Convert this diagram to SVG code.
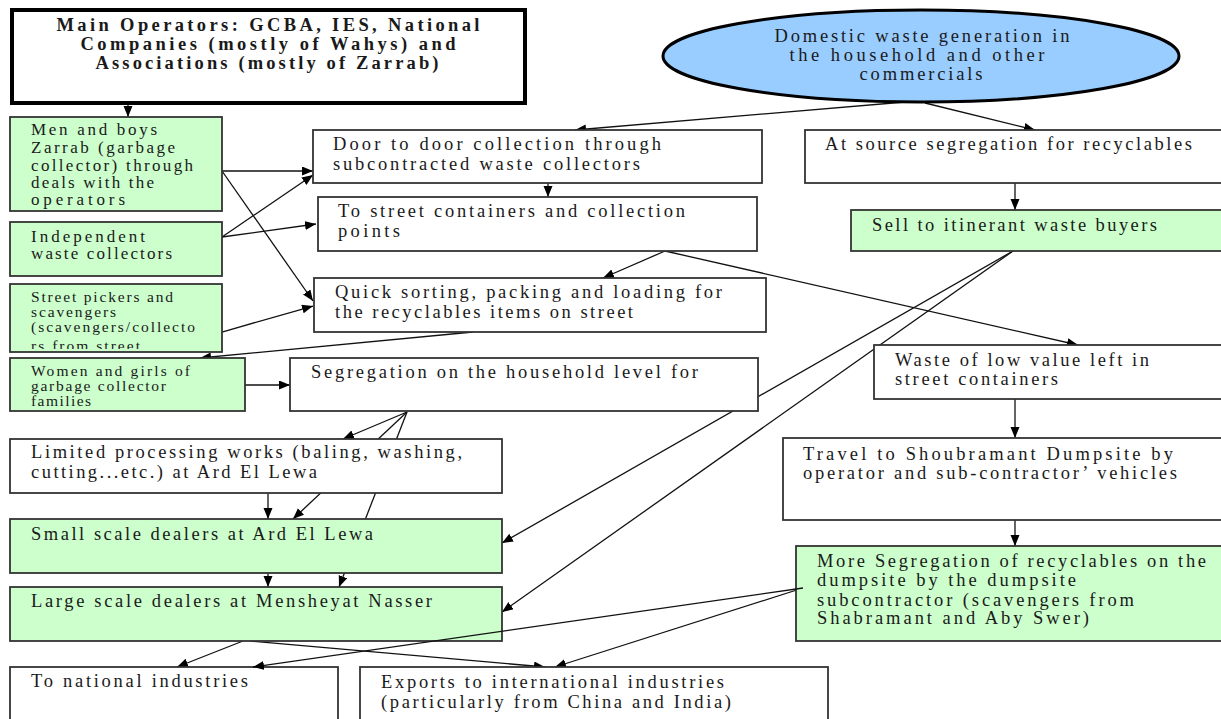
<svg xmlns="http://www.w3.org/2000/svg" width="1221" height="719" viewBox="0 0 1221 719">
<style>
.box{fill:#fff;stroke:#333;stroke-width:1.8}
.g{fill:#ccffcc;stroke:#333;stroke-width:1.8}
.c{fill:none;stroke:#111;stroke-width:1.3;marker-end:url(#ah)}
</style>
<defs>
<marker id="ah" markerUnits="userSpaceOnUse" markerWidth="12" markerHeight="10" refX="11" refY="4.5" orient="auto">
<path d="M0,0 L11,4.5 L0,9 z" fill="#000"/>
</marker>
<clipPath id="clipPick"><rect x="10" y="284" width="212" height="65"/></clipPath>
</defs>
<rect width="1221" height="719" fill="#fff"/>
<g id="connectors">
<path class="c" d="M128,103 V117"/>
<path class="c" d="M905,102 L575,130"/>
<path class="c" d="M925,103 L1035,130"/>
<path class="c" d="M548,183 V197"/>
<path class="c" d="M1015,183 V210"/>
<path class="c" d="M222,171 H313"/>
<path class="c" d="M222,171 L313,301"/>
<path class="c" d="M222,237 L313,175"/>
<path class="c" d="M222,237 L316,224"/>
<path class="c" d="M222,332 L313,306"/>
<path class="c" d="M665,251 L603,278"/>
<path class="c" d="M665,251 L1078,345"/>
<path class="c" d="M473,332 L200,358"/>
<path class="c" d="M245,385 H290"/>
<path class="c" d="M407,412 L343,439"/>
<path class="c" d="M407,412 L293,519"/>
<path class="c" d="M407,412 L339,587"/>
<path class="c" d="M268,493 V519"/>
<path class="c" d="M268,573 V587"/>
<path class="c" d="M1013,251 L502,543"/>
<path class="c" d="M1013,251 L502,612"/>
<path class="c" d="M1015,399 V438"/>
<path class="c" d="M1015,520 V546"/>
<path class="c" d="M243,641 L177,667"/>
<path class="c" d="M250,641 L545,667"/>
<path class="c" d="M803,588 L555,667"/>
</g>
<g id="nodes" font-family="Liberation Serif, DejaVu Serif, Times New Roman, serif" font-size="18.5" fill="#1a1a1a">
<g id="main">
<rect x="12" y="10" width="513" height="93" fill="#fff" stroke="#000" stroke-width="4"/>
<text x="268" y="31" text-anchor="middle" style="font-weight:bold;font-size:18.5px" textLength="423" lengthAdjust="spacing">Main Operators: GCBA, IES, National</text>
<text x="268" y="50" text-anchor="middle" style="font-weight:bold;font-size:18.5px" textLength="375" lengthAdjust="spacing">Companies (mostly of Wahys) and</text>
<text x="267" y="69" text-anchor="middle" style="font-weight:bold;font-size:18.5px" textLength="343" lengthAdjust="spacing">Associations (mostly of Zarrab)</text>
</g>
<g id="domestic">
<ellipse cx="921" cy="56" rx="258" ry="46" fill="#99ccff" stroke="#000" stroke-width="3"/>
<text x="922" y="42" text-anchor="middle" textLength="295" lengthAdjust="spacing">Domestic waste generation in</text>
<text x="917" y="61" text-anchor="middle" textLength="255" lengthAdjust="spacing">the household and other</text>
<text x="921" y="80" text-anchor="middle" textLength="123" lengthAdjust="spacing">commercials</text>
</g>
<g id="men">
<rect class="g" x="10" y="117" width="212" height="94"/>
<text x="31" y="135" style="font-size:17px" textLength="126" lengthAdjust="spacing">Men and boys</text>
<text x="31" y="153" style="font-size:17px" textLength="144" lengthAdjust="spacing">Zarrab (garbage</text>
<text x="31" y="171" style="font-size:17px" textLength="162" lengthAdjust="spacing">collector) through</text>
<text x="31" y="188" style="font-size:17px" textLength="123" lengthAdjust="spacing">deals with the</text>
<text x="31" y="205" style="font-size:17px" textLength="94" lengthAdjust="spacing">operators</text>
</g>
<g id="door">
<rect class="box" x="313" y="130" width="449" height="53"/>
<text x="333" y="150" textLength="328" lengthAdjust="spacing">Door to door collection through</text>
<text x="333" y="170" textLength="307" lengthAdjust="spacing">subcontracted waste collectors</text>
</g>
<g id="atsource">
<rect class="box" x="805" y="130" width="420" height="53"/>
<text x="825" y="150" textLength="367" lengthAdjust="spacing">At source segregation for recyclables</text>
</g>
<g id="street">
<rect class="box" x="318" y="197" width="439" height="54"/>
<text x="338" y="217" textLength="347" lengthAdjust="spacing">To street containers and collection</text>
<text x="338" y="237" textLength="62" lengthAdjust="spacing">points</text>
</g>
<g id="sell">
<rect class="g" x="851" y="210" width="374" height="41"/>
<text x="872" y="231" textLength="285" lengthAdjust="spacing">Sell to itinerant waste buyers</text>
</g>
<g id="independent">
<rect class="g" x="10" y="222" width="212" height="54"/>
<text x="31" y="242" style="font-size:17px" textLength="114" lengthAdjust="spacing">Independent</text>
<text x="31" y="259" style="font-size:17px" textLength="141" lengthAdjust="spacing">waste collectors</text>
</g>
<g id="quick">
<rect class="box" x="314" y="278" width="452" height="54"/>
<text x="335" y="298" textLength="387" lengthAdjust="spacing">Quick sorting, packing and loading for</text>
<text x="335" y="318" textLength="298" lengthAdjust="spacing">the recyclables items on street</text>
</g>
<g id="pickers">
<rect class="g" x="10" y="284" width="212" height="68"/>
<g clip-path="url(#clipPick)">
<text x="31" y="302" style="font-size:15.5px" textLength="142" lengthAdjust="spacing">Street pickers and</text>
<text x="31" y="317" style="font-size:15.5px" textLength="85" lengthAdjust="spacing">scavengers</text>
<text x="31" y="332" style="font-size:15.5px" textLength="164" lengthAdjust="spacing">(scavengers/collecto</text>
<text x="31" y="351" style="font-size:15.5px" textLength="109" lengthAdjust="spacing">rs from street</text>
</g>
</g>
<g id="women">
<rect class="g" x="10" y="358" width="235" height="53"/>
<text x="31" y="376" style="font-size:15.5px" textLength="159" lengthAdjust="spacing">Women and girls of</text>
<text x="31" y="391" style="font-size:15.5px" textLength="135" lengthAdjust="spacing">garbage collector</text>
<text x="31" y="406" style="font-size:15.5px" textLength="60" lengthAdjust="spacing">families</text>
</g>
<g id="segregation">
<rect class="box" x="290" y="358" width="468" height="53"/>
<text x="311" y="378" textLength="387" lengthAdjust="spacing">Segregation on the household level for</text>
</g>
<g id="waste">
<rect class="box" x="874" y="345" width="351" height="54"/>
<text x="895" y="366" textLength="254" lengthAdjust="spacing">Waste of low value left in</text>
<text x="895" y="385" textLength="163" lengthAdjust="spacing">street containers</text>
</g>
<g id="limited">
<rect class="box" x="10" y="439" width="492" height="54"/>
<text x="31" y="458" textLength="431" lengthAdjust="spacing">Limited processing works (baling, washing,</text>
<text x="31" y="478" textLength="286" lengthAdjust="spacing">cutting...etc.) at Ard El Lewa</text>
</g>
<g id="travel">
<rect class="box" x="783" y="438" width="442" height="82"/>
<text x="803" y="460" textLength="370" lengthAdjust="spacing">Travel to Shoubramant Dumpsite by</text>
<text x="803" y="479" textLength="374" lengthAdjust="spacing">operator and sub-contractor’ vehicles</text>
</g>
<g id="small">
<rect class="g" x="10" y="519" width="492" height="54"/>
<text x="31" y="540" textLength="342" lengthAdjust="spacing">Small scale dealers at Ard El Lewa</text>
</g>
<g id="more">
<rect class="g" x="796" y="546" width="429" height="95"/>
<text x="817" y="567" textLength="389" lengthAdjust="spacing">More Segregation of recyclables on the</text>
<text x="817" y="586" textLength="259" lengthAdjust="spacing">dumpsite by the dumpsite</text>
<text x="817" y="606" textLength="317" lengthAdjust="spacing">subcontractor (scavengers from</text>
<text x="817" y="624" textLength="272" lengthAdjust="spacing">Shabramant and Aby Swer)</text>
</g>
<g id="large">
<rect class="g" x="10" y="587" width="492" height="54"/>
<text x="31" y="607" textLength="401" lengthAdjust="spacing">Large scale dealers at Mensheyat Nasser</text>
</g>
<g id="national">
<rect class="box" x="10" y="667" width="328" height="60"/>
<text x="31" y="687" textLength="217" lengthAdjust="spacing">To national industries</text>
</g>
<g id="exports">
<rect class="box" x="360" y="667" width="468" height="60"/>
<text x="381" y="688" textLength="343" lengthAdjust="spacing">Exports to international industries</text>
<text x="381" y="708" textLength="350" lengthAdjust="spacing">(particularly from China and India)</text>
</g>
</g>
<g id="connectors-front">
<path class="c" d="M803,588 L253,667"/>
</g>
</svg>
